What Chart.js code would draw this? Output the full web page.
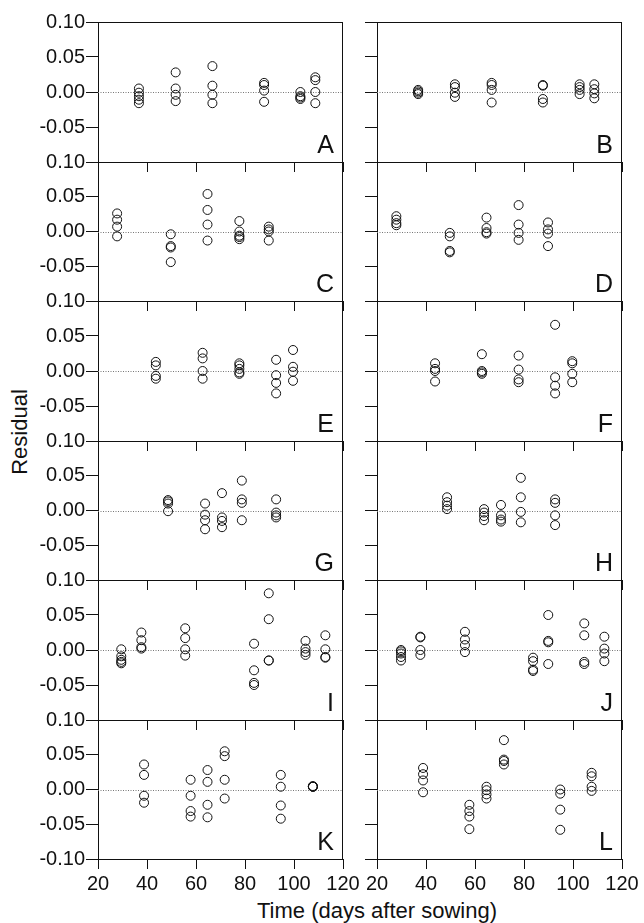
<!DOCTYPE html>
<html><head><meta charset="utf-8">
<script src="https://cdn.jsdelivr.net/npm/chart.js@4.4.1/dist/chart.umd.min.js"></script>
<style>
html,body{margin:0;padding:0;background:#fff;}
#wrap{position:relative;width:644px;height:923px;overflow:hidden;font-family:"Liberation Sans",Arial,sans-serif;}
#wrap canvas{position:absolute;}
.lbl{position:absolute;font-size:22px;line-height:22px;color:#111;white-space:nowrap;transform:translate(-50%,-50%);}
</style></head><body>
<div id="wrap">
<div class="lbl" style="left:377px;top:911px;">Time (days after sowing)</div>
<div class="lbl" style="left:20px;top:432px;transform:translate(-50%,-50%) rotate(-90deg);">Residual</div>
</div>
<script>
// ---- data ----
const panelLetters = ['A','B','C','D','E','F','G','H','I','J','K','L'];
const xTicks = [20, 40, 60, 80, 100, 120];
const yTicks = [-0.10, -0.05, 0.00, 0.05, 0.10];

const days_A = [36.7, 51.7, 66.7, 87.8, 102.6, 108.7];
const resid_A = [[0.005,-0.001,-0.006,-0.011,-0.016],[0.028,0.005,-0.004,-0.013],[0.037,0.009,-0.004,-0.016],[0.013,0.010,0.002,-0.014],[0.000,-0.006,-0.008,-0.010],[0.021,0.017,0.000,-0.016]];
const days_B = [36.8, 51.8, 66.8, 87.7, 102.7, 108.7];
const resid_B = [[0.003,0.001,-0.001,-0.003],[0.011,0.007,-0.001,-0.007],[0.013,0.010,0.003,-0.015],[0.010,0.009,-0.010,-0.015],[0.011,0.007,0.003,-0.003],[0.011,0.004,-0.002,-0.009]];
const days_C = [27.8, 49.7, 64.7, 77.7, 89.7];
const resid_C = [[0.026,0.017,0.007,-0.007],[-0.004,-0.021,-0.023,-0.044],[0.054,0.031,0.010,-0.013],[0.015,0.000,-0.006,-0.008,-0.011],[0.007,0.003,0.000,-0.013]];
const days_D = [27.9, 49.7, 64.7, 77.8, 89.8];
const resid_D = [[0.022,0.017,0.012,0.009],[-0.002,-0.007,-0.028,-0.030],[0.020,0.005,-0.001,-0.003],[0.038,0.010,-0.002,-0.012],[0.013,0.003,-0.003,-0.021]];
const days_E = [43.6, 62.7, 77.7, 92.7, 99.6];
const resid_E = [[0.013,0.008,-0.007,-0.011],[0.026,0.018,0.000,-0.011],[0.011,0.008,0.003,-0.002,-0.004],[0.016,-0.006,-0.017,-0.032],[0.030,0.006,-0.001,-0.014]];
const days_F = [43.7, 62.8, 77.8, 92.7, 99.7];
const resid_F = [[0.011,0.003,0.000,-0.015],[0.024,0.000,-0.002,-0.004],[0.022,0.002,-0.012,-0.016],[0.066,-0.009,-0.021,-0.032],[0.014,0.011,-0.004,-0.016]];
const days_G = [48.6, 63.7, 70.6, 78.7, 92.7];
const resid_G = [[0.015,0.013,0.010,-0.001],[0.010,-0.006,-0.014,-0.027],[0.025,-0.010,-0.015,-0.024],[0.043,0.016,0.011,-0.014],[0.016,-0.003,-0.007,-0.010]];
const days_H = [48.6, 63.7, 70.6, 78.7, 92.7];
const resid_H = [[0.019,0.012,0.007,0.002],[0.002,-0.003,-0.008,-0.014],[0.008,-0.007,-0.013,-0.016],[0.047,0.019,-0.002,-0.017],[0.016,0.011,-0.007,-0.021]];
const days_I = [29.5, 37.7, 55.6, 83.7, 89.7, 104.7, 112.8];
const resid_I = [[0.001,-0.009,-0.014,-0.017,-0.019],[0.025,0.014,0.004,0.002],[0.031,0.017,0.001,-0.008],[0.009,-0.029,-0.047,-0.050],[0.081,0.044,-0.015,-0.015],[0.013,0.002,-0.003,-0.007],[0.021,0.001,-0.010,-0.011]];
const days_J = [29.8, 37.7, 55.9, 83.7, 89.9, 104.6, 112.8];
const resid_J = [[0.000,-0.002,-0.005,-0.010,-0.015],[0.019,0.018,0.000,-0.007],[0.026,0.015,0.007,-0.003],[-0.011,-0.016,-0.028,-0.030],[0.050,0.013,0.011,-0.020],[0.038,0.021,-0.017,-0.020],[0.019,0.002,-0.005,-0.016]];
const days_K = [38.8, 57.8, 64.7, 71.7, 94.6, 107.7];
const resid_K = [[0.036,0.021,-0.009,-0.019],[0.014,-0.009,-0.031,-0.039],[0.028,0.011,-0.022,-0.040],[0.055,0.048,0.014,-0.013],[0.021,0.004,-0.023,-0.042],[0.004,0.004,0.005,0.004]];
const days_L = [38.8, 57.7, 64.7, 71.8, 94.8, 107.6];
const resid_L = [[0.031,0.022,0.013,-0.004],[-0.022,-0.031,-0.039,-0.057],[0.004,-0.001,-0.007,-0.013],[0.071,0.043,0.041,0.036],[0.000,-0.006,-0.029,-0.058],[0.024,0.019,0.004,-0.002]];

const panelDays = [days_A,days_B,days_C,days_D,days_E,days_F,days_G,days_H,days_I,days_J,days_K,days_L];
const panelResid = [resid_A,resid_B,resid_C,resid_D,resid_E,resid_F,resid_G,resid_H,resid_I,resid_J,resid_K,resid_L];

// ---- layout ----
const PANEL_TOPS = [22, 162, 301, 441, 580, 720, 859];
const PLOT_W = 245;
const FONT = 'Liberation Sans';
const INK = '#111';

const framePlugin = {
  id: 'frame',
  beforeDatasetsDraw(chart) {
    const {ctx, chartArea: a, scales: {y}} = chart;
    const yz = Math.round(y.getPixelForValue(0)) + 0.5;
    ctx.save();
    ctx.strokeStyle = '#777';
    ctx.lineWidth = 1;
    ctx.setLineDash([1, 1.5]);
    ctx.beginPath(); ctx.moveTo(a.left, yz); ctx.lineTo(a.right, yz); ctx.stroke();
    ctx.restore();
  },
  afterDraw(chart) {
    const {ctx, chartArea: a} = chart;
    ctx.save();
    ctx.strokeStyle = INK; ctx.lineWidth = 1;
    const t = Math.round(a.top) + 0.5, r = Math.round(a.right) - 0.5;
    ctx.beginPath();
    ctx.moveTo(a.left, t); ctx.lineTo(a.right, t);
    ctx.moveTo(r, a.top); ctx.lineTo(r, a.bottom);
    ctx.stroke();
    ctx.fillStyle = INK;
    ctx.font = '25px "' + FONT + '"';
    ctx.textAlign = 'right'; ctx.textBaseline = 'alphabetic';
    ctx.fillText(chart.options.plugins.frame.letter, a.right - 9, a.bottom - 9);
    ctx.restore();
  }
};

function fmt(v, isBottom) {
  if (Math.abs(v + 0.1) < 1e-9 && !isBottom) return '';
  const s = Math.abs(v).toFixed(2);
  return (v < -1e-9 ? '-' : '') + s;
}

const wrap = document.getElementById('wrap');
panelLetters.forEach((letter, idx) => {
  const row = Math.floor(idx / 2), col = idx % 2;
  const isBottom = row === 5, isLeft = col === 0;
  const top = PANEL_TOPS[row], h = PANEL_TOPS[row + 1] - top;
  const padTop = 14, padRight = 20;
  const yW = isLeft ? 98 : 27;
  const xH = isBottom ? 40 : 14;
  const cw = yW + PLOT_W + padRight;
  const ch = padTop + h + xH;
  const canvas = document.createElement('canvas');
  canvas.width = cw; canvas.height = ch;
  canvas.style.left = (isLeft ? 0 : 350) + 'px';
  canvas.style.top = (top - padTop) + 'px';
  canvas.style.width = cw + 'px'; canvas.style.height = ch + 'px';
  wrap.appendChild(canvas);

  const days = panelDays[idx], resid = panelResid[idx];
  const pts = [];
  days.forEach((d, i) => resid[i].forEach(r => pts.push({x: d, y: r})));

  new Chart(canvas, {
    type: 'scatter',
    data: { datasets: [{ data: pts, pointStyle: 'circle', pointRadius: 4.5, pointHoverRadius: 4.5,
      borderWidth: 1, borderColor: INK, backgroundColor: 'rgba(0,0,0,0)' }] },
    options: {
      responsive: false, animation: false, devicePixelRatio: 1,
      layout: { padding: { top: padTop, right: padRight, left: 0, bottom: 0 } },
      plugins: { legend: { display: false }, tooltip: { enabled: false }, frame: { letter } },
      scales: {
        x: {
          type: 'linear', min: xTicks[0], max: xTicks[xTicks.length - 1], position: 'bottom',
          afterBuildTicks: s => { s.ticks = xTicks.map(v => ({value: v})); },
          ticks: { display: isBottom, maxRotation: 0, autoSkip: false, padding: 3,
            font: { family: FONT, size: 20 }, color: INK, callback: v => String(v) },
          grid: { drawOnChartArea: false, drawTicks: true, tickLength: 10, tickColor: INK, tickWidth: 1 },
          border: { display: true, color: INK, width: 1 },
          afterFit: s => { s.height = xH; }
        },
        y: {
          type: 'linear', min: yTicks[0], max: yTicks[yTicks.length - 1], position: 'left',
          afterBuildTicks: s => { s.ticks = yTicks.map(v => ({value: v})); },
          ticks: { display: isLeft, padding: 1, autoSkip: false,
            font: { family: FONT, size: 20 }, color: INK, callback: v => fmt(v, isBottom) },
          grid: { drawOnChartArea: false, drawTicks: true, tickLength: 12, tickColor: INK, tickWidth: 1 },
          border: { display: true, color: INK, width: 1 },
          afterFit: s => { s.width = yW; }
        }
      }
    },
    plugins: [framePlugin]
  });
});
</script>
</body></html>
